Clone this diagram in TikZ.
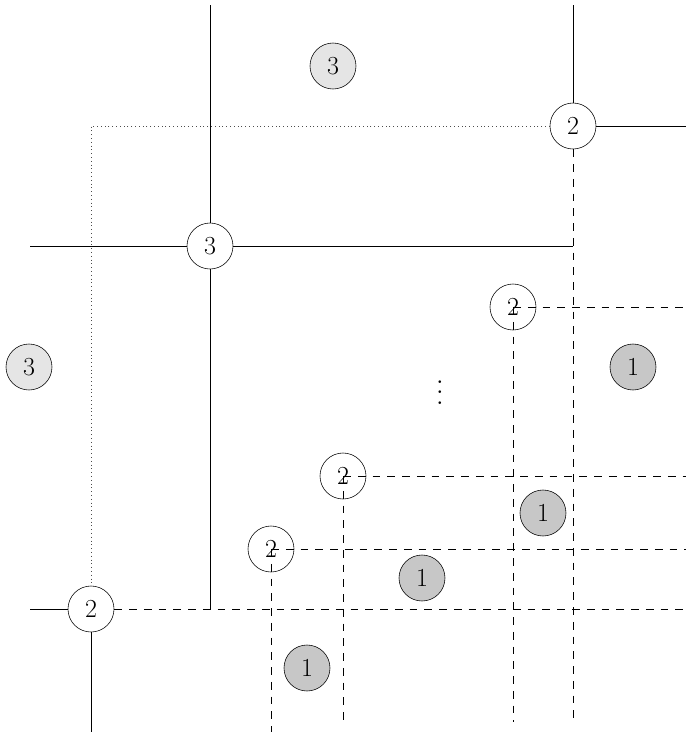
\documentclass[tikz,border=0pt]{standalone}
\usepackage{tikz}
\usetikzlibrary{positioning}

\begin{document}
\begin{tikzpicture}[
  x=0.025cm,y=-0.025cm,
  every node/.style={font=\fontsize{18.5}{20}\selectfont},
  blk/.style={draw,circle,fill=white,minimum size=1.15cm,inner sep=0pt},
  blkopen/.style={draw,circle,minimum size=1.15cm,inner sep=0pt},
  lt/.style={draw,circle,fill=black!10,minimum size=1.15cm,inner sep=0pt},
  dk/.style={draw,circle,fill=black!22,minimum size=1.15cm,inner sep=0pt},
  sol/.style={line width=0.7pt},
  dsh/.style={line width=0.7pt,dash pattern=on 5.5pt off 5pt},
  dot/.style={line width=0.5pt,black!70,dash pattern=on 0.6pt off 2.1pt}
]
\useasboundingbox (0,0) rectangle (686,732);

% Big blocks
\node[blk] (b3) at (210,246) {3};
\node[blk] (b2top) at (573,126) {2};
\node[blk] (b2bot) at (91,609) {2};

% Free ends
\coordinate (t1) at (210,5);
\coordinate (t2) at (573,5);
\coordinate (c1) at (210,609);
\coordinate (c2) at (573,246);
\coordinate (l1) at (30,246);
\coordinate (l2) at (30,609);
\coordinate (r1) at (686,126);
\coordinate (d1) at (91,126);
\coordinate (u1) at (91,732);

% Solid frame
\draw[sol] (t1) -- (b3) -- (c1);
\draw[sol] (l1) -- (b3) -- (c2);
\draw[sol] (t2) -- (b2top) -- (r1);
\draw[sol] (l2) -- (b2bot) -- (u1);
\draw[dot] (b2top) -- (d1) -- (b2bot);
\draw[dsh] (b2top) -- (573,722);
\draw[dsh] (b2bot) -- (686,609);

% Diagonal blocks
\node[blkopen] (m1) at (513,307) {2};
\node[blkopen] (m2) at (343,476) {2};
\node[blkopen] (m3) at (271,549) {2};
\foreach \n/\xx/\yy/\bot in {m1/513/307/722,m2/343/476/722,m3/271/549/732}{
  \draw[dsh] (\n.center) -- (686,\yy);
  \draw[dsh] (\n.center) -- (\xx,\bot);
}

% Filled labels
\node[lt] (g1) at (333,66) {3};
\node[lt] (g2) at (29,367) {3};
\node[dk] (k1) at (633,367) {1};
\node[dk] (k2) at (543,513) {1};
\node[dk] (k3) at (422,578) {1};
\node[dk] (k4) at (307,668) {1};

\node[font=\normalsize,scale=1.8] (dots) at (440,385) {$\vdots$};
\end{tikzpicture}
\end{document}
